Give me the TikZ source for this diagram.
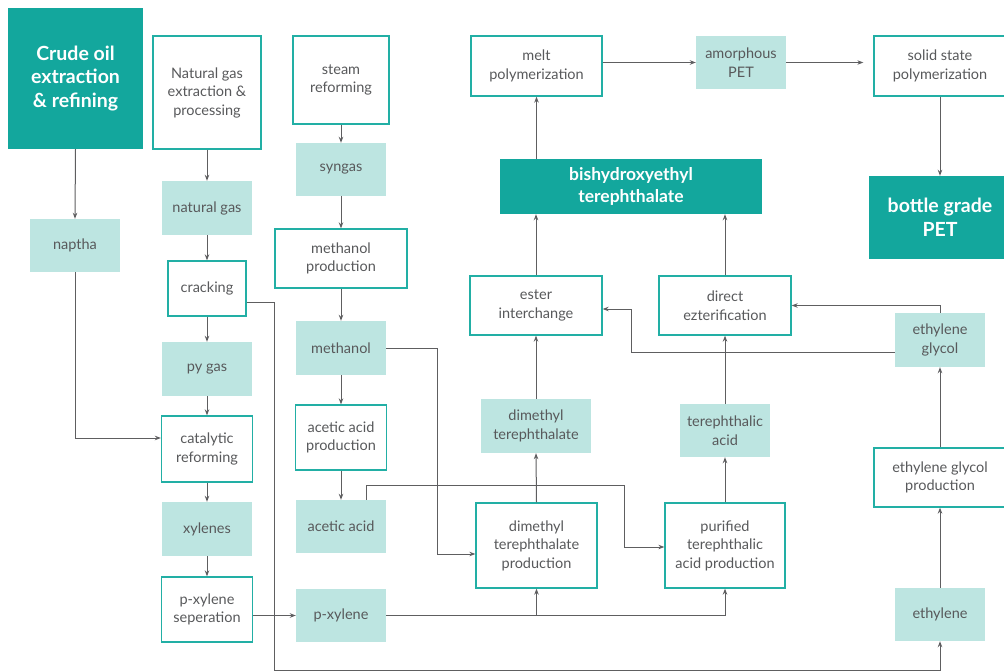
\documentclass[tikz,border=0pt]{standalone}
\usepackage{fontspec}
\setmainfont{Lato}
\usetikzlibrary{arrows.meta,calc}
\definecolor{dark}{HTML}{13A79D}
\definecolor{light}{HTML}{BDE5E1}
\definecolor{tealb}{HTML}{22AFA5}
\definecolor{txt}{HTML}{58595B}
\definecolor{lin}{HTML}{5E5E60}
\tikzset{
 base/.style={rectangle, inner sep=0pt, align=center, font=\fontsize{14.5}{18.5}\selectfont, text=txt},
 wbox/.style={base, draw=tealb, line width=1.3pt, fill=white},
 lbox/.style={base, fill=light},
 dbox/.style={base, fill=dark, text=white, font=\bfseries\fontsize{19.5}{23.5}\selectfont},
 arr/.style={draw=lin, line width=1pt, -{Stealth[length=6pt,width=4.5pt]}},
}
\begin{document}
\begin{tikzpicture}[x=1pt,y=-1pt]
\useasboundingbox (0,0) rectangle (1004,671);
% left column
\node[dbox, minimum width=135pt, minimum height=141pt] (crude) at (75.5,78.5) {Crude oil\\extraction\\\& refining};
\node[lbox, minimum width=90pt, minimum height=53pt] (naptha) at (75,245.5) {naptha};
% second column
\node[wbox, minimum width=108pt, minimum height=113pt] (ngext) at (207,92.5) {Natural gas\\extraction \&\\processing};
\node[lbox, minimum width=90pt, minimum height=54pt] (natgas) at (207,208) {natural gas};
\node[wbox, minimum width=78pt, minimum height=55pt] (cracking) at (207,288.5) {cracking};
\node[lbox, minimum width=90pt, minimum height=54pt] (pygas) at (207,369) {py gas};
\node[wbox, minimum width=91pt, minimum height=66pt] (catalytic) at (207,449) {catalytic\\reforming};
\node[lbox, minimum width=90pt, minimum height=54pt] (xylenes) at (207,529) {xylenes};
\node[wbox, minimum width=91pt, minimum height=65pt] (pxsep) at (207,609.5) {p-xylene\\seperation};
% third column
\node[wbox, minimum width=96pt, minimum height=88pt] (steam) at (341,80) {steam\\reforming};
\node[lbox, minimum width=90pt, minimum height=53pt] (syngas) at (341,169.5) {syngas};
\node[wbox, minimum width=132pt, minimum height=59pt] (methprod) at (341,258.5) {methanol\\production};
\node[lbox, minimum width=90pt, minimum height=54pt] (methanol) at (341,348) {methanol};
\node[wbox, minimum width=91pt, minimum height=65pt] (aceticprod) at (341,437.5) {acetic acid\\production};
\node[lbox, minimum width=90pt, minimum height=53pt] (acetic) at (341,526.5) {acetic acid};
\node[lbox, minimum width=90pt, minimum height=53pt] (pxylene) at (341,615.5) {p-xylene};
% DMT column
\node[wbox, minimum width=131pt, minimum height=60pt] (melt) at (536.5,66) {melt\\polymerization};
\node[dbox, font=\bfseries\fontsize{17.5}{21.5}\selectfont, minimum width=262pt, minimum height=55pt] (bhet) at (631,186.5) {bishydroxyethyl\\terephthalate};
\node[wbox, minimum width=132pt, minimum height=59pt] (ester) at (536,305.5) {ester\\interchange};
\node[lbox, minimum width=110pt, minimum height=54pt] (dmt) at (536,426) {dimethyl\\terephthalate};
\node[wbox, minimum width=121pt, minimum height=85pt] (dmtprod) at (536.5,545.5) {dimethyl\\terephthalate\\production};
% PTA column
\node[lbox, minimum width=90pt, minimum height=53pt] (amorph) at (741,62.5) {amorphous\\PET};
\node[wbox, minimum width=132pt, minimum height=59pt] (direct) at (725,305.5) {direct\\ezterification};
\node[lbox, minimum width=90pt, minimum height=53pt] (ta) at (725,430.5) {terephthalic\\acid};
\node[wbox, minimum width=120pt, minimum height=85pt] (pta) at (725,545.5) {purified\\terephthalic\\acid production};
% right column
\node[wbox, minimum width=132pt, minimum height=60pt] (solid) at (940,66) {solid state\\polymerization};
\node[dbox, minimum width=142pt, minimum height=83pt] (bottle) at (940,217.5) {bottle grade\\PET};
\node[lbox, minimum width=90pt, minimum height=54pt] (eg) at (940,340) {ethylene\\glycol};
\node[wbox, minimum width=132pt, minimum height=59pt] (egprod) at (940,477.5) {ethylene glycol\\production};
\node[lbox, minimum width=90pt, minimum height=53pt] (ethylene) at (940,614.5) {ethylene};
% helper coordinates
\coordinate (c1) at (274,670);
\coordinate (c2) at (437,554);
\coordinate (c3) at (624,485);
\coordinate (c4) at (631,309);
% connectors: left
\draw[arr] (crude.south) -- (naptha.north);
\draw[arr] (naptha.south) |- ([yshift=11pt]catalytic.west);
\draw[arr] (ngext.south) -- (natgas.north);
\draw[arr] (natgas.south) -- (cracking.north);
\draw[arr] (cracking.south) -- (pygas.north);
\draw[arr] (pygas.south) -- (catalytic.north);
\draw[arr] (catalytic.south) -- (xylenes.north);
\draw[arr] (xylenes.south) -- (pxsep.north);
\draw[arr] (pxsep.east |- pxylene.west) -- (pxylene.west);
\draw[arr] ([yshift=-13.5pt]cracking.east) -| (c1) -| (ethylene.south);
% third column
\draw[arr] (steam.south) -- (syngas.north);
\draw[arr] (syngas.south) -- (methprod.north);
\draw[arr] (methprod.south) -- (methanol.north);
\draw[arr] (methanol.south) -- (aceticprod.north);
\draw[arr] (aceticprod.south) -- (acetic.north);
\draw[arr] (methanol.east) -| (c2) -- (c2 -| dmtprod.west);
\draw[arr] ([xshift=25pt]acetic.north) |- (c3) |- ([yshift=-1.5pt]pta.west);
\draw[arr] (pxylene.east) -| (pta.south);
\draw[arr] (pxylene.east -| dmtprod.south) -- (dmtprod.south);
% DMT column
\draw[arr] (dmtprod.north) -- (dmt.south);
\draw[arr] (dmt.north) -- (ester.south);
\draw[arr] (ester.north) -- (ester.north |- bhet.south);
\draw[arr] (melt.south |- bhet.north) -- (melt.south);
% PTA column
\draw[arr] (pta.north) -- (ta.south);
\draw[arr] (ta.north) -- (direct.south);
\draw[arr] (direct.north) -- (direct.north |- bhet.south);
% top row
\draw[arr] (amorph.west -| melt.east) -- (amorph.west);
\draw[arr] (amorph.east) -- ([xshift=-10pt]solid.west |- amorph.east);
\draw[arr] (solid.south) -- (bottle.north);
% right column
\draw[arr] (ethylene.north) -- (egprod.south);
\draw[arr] (egprod.north) -- (eg.south);
\draw[arr] (eg.north) |- (direct.east);
\draw[arr] ([yshift=-12pt]eg.west) -| (c4) -- (c4 -| ester.east);
\end{tikzpicture}
\end{document}
